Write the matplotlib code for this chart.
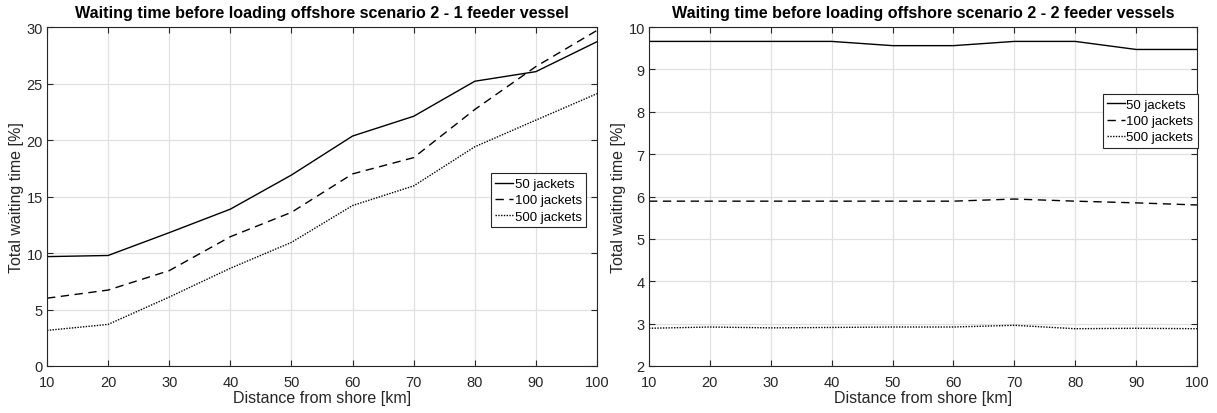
import matplotlib
matplotlib.use("Agg")
import matplotlib.pyplot as plt

plt.rcParams['font.family'] = ['Liberation Sans', 'DejaVu Sans']

distance = [10, 20, 30, 40, 50, 60, 70, 80, 90, 100]

# Scenario 2, 1 feeder vessel
one_feeder_50 = [9.68, 9.78, 11.8, 13.88, 16.9, 20.35, 22.1, 25.2, 26.05, 28.7]
one_feeder_100 = [6.0, 6.72, 8.44, 11.44, 13.6, 17.0, 18.44, 22.7, 26.5, 29.7]
one_feeder_500 = [3.15, 3.68, 6.1, 8.65, 10.94, 14.2, 15.94, 19.4, 21.76, 24.1]

# Scenario 2, 2 feeder vessels
two_feeder_50 = [9.66, 9.66, 9.66, 9.66, 9.56, 9.56, 9.66, 9.66, 9.47, 9.47]
two_feeder_100 = [5.89, 5.89, 5.89, 5.89, 5.89, 5.89, 5.94, 5.89, 5.85, 5.80]
two_feeder_500 = [2.89, 2.92, 2.90, 2.91, 2.92, 2.92, 2.96, 2.88, 2.89, 2.88]

labels = ['50 jackets', '100 jackets', '500 jackets']
styles = ['-', (0, (6, 4)), (0, (1, 1))]

titles = ['Waiting time before loading offshore scenario 2 - 1 feeder vessel',
          'Waiting time before loading offshore scenario 2 - 2 feeder vessels']
ylims = [(0, 30), (2, 10)]
yticks = [list(range(0, 31, 5)), list(range(2, 11, 1))]
legend_pos = [(0.807, 0.568), (0.828, 0.802)]

fig = plt.figure(figsize=(12.17, 4.14), dpi=100)
ax1 = fig.add_axes([47 / 1217, 47 / 414, 550 / 1217, 339 / 414])
ax2 = fig.add_axes([649 / 1217, 47 / 414, 548 / 1217, 339 / 414])

axis_color = '#262626'
datasets = [[one_feeder_50, one_feeder_100, one_feeder_500],
            [two_feeder_50, two_feeder_100, two_feeder_500]]

for ax, series, title, ylim, yt, lpos in zip([ax1, ax2], datasets, titles, ylims, yticks, legend_pos):
    for vals, ls, lab in zip(series, styles, labels):
        ax.plot(distance, vals, color='black', linestyle=ls, linewidth=1.0, label=lab)
    ax.set_xlim(10, 100)
    ax.set_ylim(*ylim)
    ax.set_xticks(distance)
    ax.set_yticks(yt)
    ax.grid(True, color='#e0e0e0', linewidth=0.9)
    ax.set_axisbelow(True)
    ax.tick_params(direction='in', top=True, right=True, length=4,
                   colors=axis_color, labelsize=10.5)
    ax.tick_params(axis='x', pad=6.5)
    ax.tick_params(axis='y', pad=3)
    for sp in ax.spines.values():
        sp.set_color(axis_color)
        sp.set_linewidth(0.8)
    ax.set_title(title, fontsize=11.6, fontweight='bold', pad=7)
    ax.set_xlabel('Distance from shore [km]', fontsize=11.5, color=axis_color, labelpad=1)
    ax.set_ylabel('Total waiting time [%]', fontsize=11.5, color=axis_color, labelpad=2)
    leg = ax.legend(loc='upper left', bbox_to_anchor=lpos, fontsize=9.5,
                    handlelength=1.3, handletextpad=0.15, borderpad=0.35,
                    labelspacing=0.3, borderaxespad=0, fancybox=False,
                    framealpha=1)
    leg.get_frame().set_edgecolor(axis_color)
    leg.get_frame().set_linewidth(0.8)

fig.savefig('out.png', dpi=100)
